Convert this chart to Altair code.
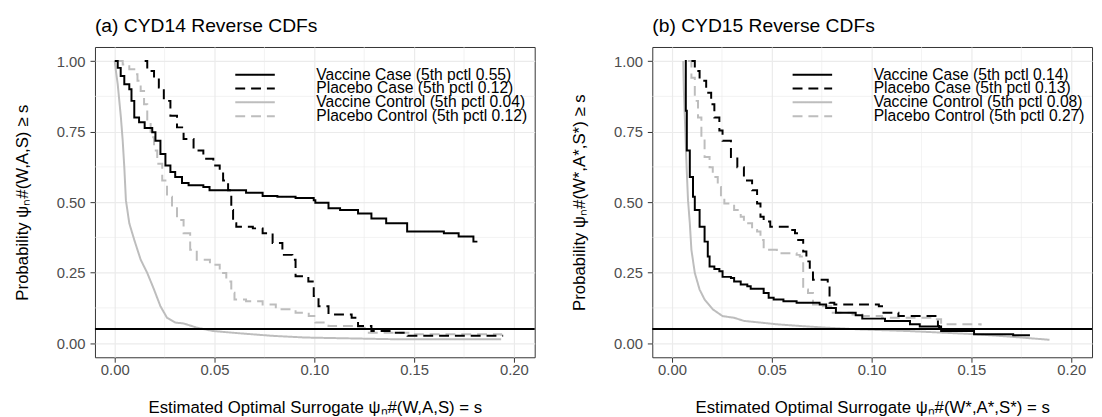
import altair as alt
import pandas as pd

FONT = "Liberation Sans"

series = ["Vaccine Case", "Placebo Case", "Vaccine Control", "Placebo Control"]
series_colors = ["#000000", "#000000", "#BDBDBD", "#BDBDBD"]
series_dashes = [[1, 0], [10, 6], [1, 0], [10, 6]]
legend_rows = [0, 1, 2, 3]

x_ticks = [0.0, 0.05, 0.10, 0.15, 0.20]
y_ticks = [0.0, 0.25, 0.50, 0.75, 1.00]
x_minor = [0.025, 0.075, 0.125, 0.175]
y_minor = [0.125, 0.375, 0.625, 0.875]
cutoff = [0.05]
x_domain = [-0.0099, 0.2104]
y_domain = [-0.05, 1.05]

# ---------------- Panel (a) CYD14 ----------------
a_vcase_x = [0.0, 0.0015, 0.003, 0.0048, 0.0073, 0.0084, 0.0098, 0.0122, 0.015, 0.0188, 0.0204, 0.0229,
             0.0254, 0.0279, 0.0303, 0.0337, 0.037, 0.0444, 0.0475, 0.0658, 0.0741, 0.0815, 0.0906,
             0.0997, 0.1005, 0.1071, 0.1129, 0.1219, 0.1286, 0.136, 0.1465, 0.1649, 0.1723, 0.1797, 0.1812]
a_vcase_y = [1.0, 0.976, 0.947, 0.918, 0.90, 0.859, 0.80, 0.783, 0.763, 0.748, 0.718, 0.671,
             0.630, 0.607, 0.589, 0.568, 0.560, 0.554, 0.542, 0.533, 0.522, 0.519, 0.515,
             0.507, 0.498, 0.478, 0.472, 0.460, 0.442, 0.425, 0.396, 0.39, 0.378, 0.360, 0.357]

a_pcase_x = [0.015, 0.0163, 0.0197, 0.0221, 0.0246, 0.0279, 0.0312, 0.0345, 0.0395, 0.0444, 0.0494,
             0.0526, 0.0543, 0.0568, 0.0584, 0.0593, 0.0609, 0.0692, 0.0741, 0.0791, 0.084, 0.089,
             0.0906, 0.097, 0.0997, 0.1021, 0.1071, 0.1187, 0.1219, 0.1286, 0.1401, 0.1467, 0.1946]
a_pcase_y = [1.0, 0.965, 0.941, 0.906, 0.859, 0.806, 0.765, 0.724, 0.683, 0.654, 0.630,
             0.613, 0.577, 0.542, 0.472, 0.425, 0.413, 0.407, 0.39, 0.355, 0.313, 0.296,
             0.237, 0.219, 0.167, 0.131, 0.102, 0.090, 0.061, 0.043, 0.037, 0.026, 0.026]

a_vctrl_x = [0.0, 0.0006, 0.0015, 0.0023, 0.0031, 0.004, 0.0048, 0.0056, 0.0073, 0.0098, 0.013,
             0.0163, 0.0197, 0.0229, 0.0262, 0.0303, 0.0345, 0.0411, 0.0494, 0.0625, 0.0791,
             0.0955, 0.1401, 0.1936]
a_vctrl_y = [1.0, 0.965, 0.918, 0.859, 0.80, 0.718, 0.624, 0.507, 0.425, 0.366, 0.296,
             0.249, 0.190, 0.131, 0.090, 0.073, 0.070, 0.055, 0.043, 0.035, 0.026,
             0.020, 0.014, 0.014]

a_pctrl_x = [0.0015, 0.004, 0.0073, 0.0098, 0.0114, 0.013, 0.0147, 0.0163, 0.018, 0.0197, 0.0213,
             0.0238, 0.0262, 0.0287, 0.0312, 0.0345, 0.0378, 0.0411, 0.0477, 0.0526, 0.0559,
             0.0584, 0.06, 0.0658, 0.0741, 0.0807, 0.0906, 0.0972, 0.1005, 0.1071, 0.1203,
             0.1252, 0.1484, 0.1936]
a_pctrl_y = [1.0, 0.988, 0.971, 0.953, 0.930, 0.894, 0.847, 0.789, 0.730, 0.683, 0.636,
             0.577, 0.519, 0.483, 0.437, 0.39, 0.331, 0.296, 0.278, 0.249, 0.219,
             0.179, 0.155, 0.149, 0.137, 0.120, 0.108, 0.096, 0.073, 0.061, 0.055,
             0.037, 0.032, 0.026]

a_labels = ["Vaccine Case (5th pctl 0.55)", "Placebo Case (5th pctl 0.12)",
            "Vaccine Control (5th pctl 0.04)", "Placebo Control (5th pctl 0.12)"]

# ---------------- Panel (b) CYD15 ----------------
b_vcase_x = [0.0064, 0.0069, 0.0074, 0.0089, 0.0105, 0.0114, 0.0138, 0.0163, 0.0179, 0.0188, 0.0212,
             0.0237, 0.0253, 0.0295, 0.0311, 0.0344, 0.0377, 0.0394, 0.0459, 0.0484, 0.0509,
             0.0558, 0.0624, 0.0739, 0.0772, 0.0821, 0.092, 0.0953, 0.1067, 0.1192, 0.1241,
             0.1348, 0.1513, 0.1709, 0.1793]
b_vcase_y = [1.0, 0.824, 0.683, 0.589, 0.519, 0.472, 0.413, 0.360, 0.307, 0.272, 0.263,
             0.255, 0.235, 0.231, 0.219, 0.208, 0.202, 0.193, 0.178, 0.161, 0.155,
             0.149, 0.143, 0.137, 0.125, 0.108, 0.099, 0.087, 0.079, 0.067, 0.059,
             0.043, 0.032, 0.028, 0.028]

b_pcase_x = [0.0097, 0.0114, 0.0138, 0.0171, 0.0196, 0.0212, 0.0237, 0.0253, 0.0295, 0.0327, 0.036,
             0.0401, 0.0426, 0.0443, 0.0459, 0.0492, 0.0591, 0.0616, 0.0632, 0.0657, 0.0673,
             0.069, 0.0706, 0.078, 0.0789, 0.0813, 0.1036, 0.1052, 0.1134, 0.1332, 0.1338]
b_pcase_y = [1.0, 0.965, 0.93, 0.888, 0.847, 0.80, 0.754, 0.718, 0.660, 0.624, 0.577,
             0.542, 0.495, 0.448, 0.431, 0.413, 0.401, 0.39, 0.366, 0.325, 0.290,
             0.261, 0.225, 0.214, 0.143, 0.137, 0.131, 0.108, 0.096, 0.061, 0.039]

b_vctrl_x = [0.0056, 0.0059, 0.0064, 0.0073, 0.008, 0.0089, 0.0097, 0.0114, 0.0138, 0.0163, 0.0204,
             0.0253, 0.0311, 0.036, 0.0443, 0.0525, 0.064, 0.0772, 0.0937, 0.1184, 0.1513,
             0.1678, 0.1891]
b_vctrl_y = [1.0, 0.90, 0.80, 0.624, 0.507, 0.425, 0.331, 0.249, 0.190, 0.155, 0.120,
             0.096, 0.090, 0.079, 0.073, 0.067, 0.061, 0.055, 0.049, 0.043, 0.032,
             0.024, 0.012]

b_pctrl_x = [0.008, 0.0097, 0.0114, 0.013, 0.0147, 0.0163, 0.0188, 0.0204, 0.0229, 0.0245, 0.0262,
             0.0311, 0.0344, 0.036, 0.0401, 0.0426, 0.0443, 0.0459, 0.0525, 0.0542, 0.0624,
             0.064, 0.0657, 0.0681, 0.0706, 0.0756, 0.0805, 0.0904, 0.0953, 0.1052, 0.1315,
             0.1348, 0.1546]
b_pctrl_y = [1.0, 0.941, 0.859, 0.80, 0.730, 0.660, 0.624, 0.589, 0.554, 0.519, 0.495,
             0.472, 0.448, 0.425, 0.401, 0.396, 0.366, 0.331, 0.325, 0.319, 0.313,
             0.307, 0.190, 0.178, 0.137, 0.131, 0.108, 0.102, 0.096, 0.090, 0.085,
             0.067, 0.063]

b_labels = ["Vaccine Case (5th pctl 0.14)", "Placebo Case (5th pctl 0.13)",
            "Vaccine Control (5th pctl 0.08)", "Placebo Control (5th pctl 0.27)"]

W, H = 445, 314


def panel(xs, ys, labels, title, xtitle, ytitle):
    rows = []
    # draw order: grey curves first, black on top
    for idx in [2, 3, 0, 1]:
        for i, (a, b) in enumerate(zip(xs[idx], ys[idx])):
            rows.append({"series": series[idx], "x": a, "y": b, "i": i})
    df = pd.DataFrame(rows)

    X = alt.X("x:Q", scale=alt.Scale(domain=x_domain, nice=False, zero=False),
              axis=alt.Axis(values=x_ticks, format=".2f", labelPadding=0, titlePadding=23),
              title=xtitle)
    Y = alt.Y("y:Q", scale=alt.Scale(domain=y_domain, nice=False, zero=False),
              axis=alt.Axis(values=y_ticks, format=".2f", labelPadding=5, titlePadding=25),
              title=ytitle)
    color = alt.Color("series:N", scale=alt.Scale(domain=series, range=series_colors), legend=None)
    dash = alt.StrokeDash("series:N", scale=alt.Scale(domain=series, range=series_dashes), legend=None)

    xgrid = alt.Chart(pd.DataFrame({"x": x_minor})).mark_rule(color="#EBEBEB", strokeWidth=0.6).encode(x=X)
    ygrid = alt.Chart(pd.DataFrame({"y": y_minor})).mark_rule(color="#EBEBEB", strokeWidth=0.6).encode(y=Y)
    smooth = alt.Chart(df[df.series == "Vaccine Control"]).mark_line(strokeWidth=2).encode(
        x=X, y=Y, color=color, strokeDash=dash, order="i:Q")
    steps = alt.Chart(df[df.series != "Vaccine Control"]).mark_line(
        interpolate="step-after", strokeWidth=2).encode(
        x=X, y=Y, color=color, strokeDash=dash, order="i:Q")
    hline = alt.Chart(pd.DataFrame({"y": cutoff})).mark_rule(color="black", strokeWidth=2).encode(y=Y)
    main = alt.layer(xgrid, ygrid, smooth, steps, hline)

    leg_df = pd.DataFrame({"series": series, "label": labels, "row": legend_rows})
    LY = alt.Y("row:Q", scale=alt.Scale(domain=[0, 3], range=[28, 70], nice=False, zero=False), axis=None)
    leg_lines = alt.Chart(leg_df).mark_rule(strokeWidth=2).encode(
        x=alt.value(142), x2=alt.value(182), y=LY, color=color, strokeDash=dash)
    leg_text = alt.Chart(leg_df).mark_text(
        align="left", baseline="middle", fontSize=15.8, font=FONT, color="black").encode(
        x=alt.value(224), y=LY, text="label:N")
    legend = alt.layer(leg_lines, leg_text)

    return alt.layer(main, legend).resolve_scale(y="independent").properties(
        width=W, height=H,
        title=alt.TitleParams(text=title, anchor="start", fontSize=19.5, fontWeight="normal",
                              font=FONT, color="black", offset=10, frame="group"))


left = panel([a_vcase_x, a_pcase_x, a_vctrl_x, a_pctrl_x],
             [a_vcase_y, a_pcase_y, a_vctrl_y, a_pctrl_y],
             a_labels, "(a) CYD14 Reverse CDFs",
             "Estimated Optimal Surrogate ψₙ#(W,A,S) = s",
             "Probability ψₙ#(W,A,S) ≥ s")
right = panel([b_vcase_x, b_pcase_x, b_vctrl_x, b_pctrl_x],
              [b_vcase_y, b_pcase_y, b_vctrl_y, b_pctrl_y],
              b_labels, "(b) CYD15 Reverse CDFs",
              "Estimated Optimal Surrogate ψₙ#(W*,A*,S*) = s",
              "Probability ψₙ#(W*,A*,S*) ≥ s")

chart = alt.hconcat(left, right, spacing=34).configure(
    padding={"left": 5, "top": 5, "right": 0, "bottom": 0}
).configure_view(
    stroke="#333333", strokeWidth=1
).configure_axis(
    labelFont=FONT, labelFontSize=15, labelColor="#4D4D4D",
    titleFont=FONT, titleFontSize=17, titleFontWeight="normal", titleColor="black",
    domain=False, tickColor="#333333", tickSize=5, tickWidth=1,
    gridColor="#EBEBEB", gridWidth=1.2
)

chart.save("out.html", embed_options={"renderer": "svg", "actions": False})
